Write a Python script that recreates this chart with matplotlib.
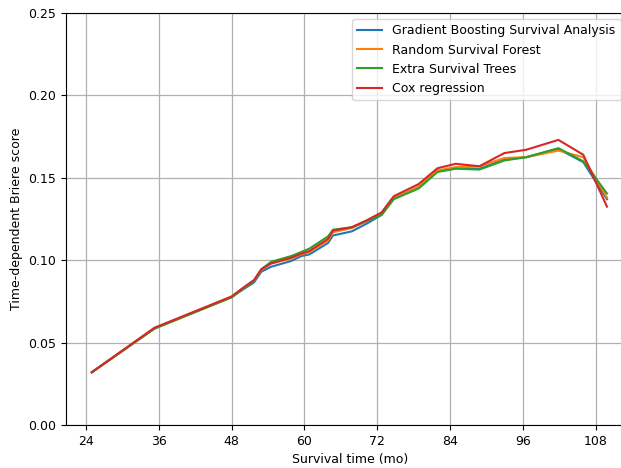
import matplotlib
matplotlib.use("Agg")
import matplotlib.pyplot as plt

months = [25, 35.3, 48, 49.8, 51.7, 52.9, 54.5, 57.8, 59.5, 60.8, 63.9, 64.7, 67.8,
          70.4, 72.7, 74.7, 78.8, 81.9, 84.9, 88.8, 92.9, 96.5, 101.8, 105.9, 109.8]

gbsa = [0.032, 0.0585, 0.0775, 0.082, 0.0865, 0.093, 0.096, 0.0995, 0.1025, 0.1035,
        0.1105, 0.115, 0.1175, 0.1225, 0.1275, 0.1375, 0.1445, 0.154, 0.156, 0.1555,
        0.161, 0.1625, 0.1675, 0.1595, 0.137]
rsf = [0.032, 0.0585, 0.0775, 0.0825, 0.0875, 0.094, 0.098, 0.101, 0.1035, 0.105,
       0.112, 0.117, 0.1195, 0.124, 0.128, 0.1375, 0.1445, 0.1545, 0.1565, 0.157,
       0.162, 0.1625, 0.1665, 0.1625, 0.138]
est = [0.032, 0.0585, 0.0775, 0.0825, 0.0875, 0.0945, 0.099, 0.1025, 0.105, 0.107,
       0.1145, 0.1185, 0.120, 0.124, 0.1275, 0.137, 0.1435, 0.1535, 0.1555, 0.155,
       0.1605, 0.1625, 0.168, 0.160, 0.1405]
cox = [0.032, 0.059, 0.078, 0.083, 0.088, 0.0945, 0.098, 0.1015, 0.104, 0.1055,
       0.113, 0.118, 0.120, 0.1245, 0.129, 0.1388, 0.1462, 0.1558, 0.1585, 0.157,
       0.165, 0.167, 0.173, 0.164, 0.1325]

labels = ["Gradient Boosting Survival Analysis", "Random Survival Forest",
          "Extra Survival Trees", "Cox regression"]
xticks = [24, 36, 48, 60, 72, 84, 96, 108]

plt.rcParams["font.size"] = 9

W, H = 621, 468
fig = plt.figure(figsize=(W / 100, H / 100), dpi=100)
ax = fig.add_axes([66 / W, 43 / H, 568 / W, 412 / H])

for series, lab in zip([gbsa, rsf, est, cox], labels):
    ax.plot(months, series, label=lab, lw=1.5)

ax.set_xlim(20.75, 114.25)
ax.set_ylim(0, 0.25)
ax.set_xticks(xticks)
ax.set_yticks([0, 0.05, 0.10, 0.15, 0.20, 0.25])
ax.set_yticklabels(["0.00", "0.05", "0.10", "0.15", "0.20", "0.25"])
ax.grid(True, color="#b0b0b0", lw=0.9)
ax.set_xlabel("Survival time (mo)")
ax.set_ylabel("Time-dependent Briere score")
ax.legend(loc="upper right", bbox_to_anchor=(1 - 7 / 568, 1))

fig.savefig("out.png", dpi=100)
